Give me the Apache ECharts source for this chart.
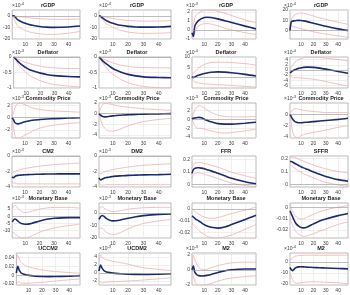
<!DOCTYPE html>
<html><head><meta charset="utf-8">
<script src="https://cdn.jsdelivr.net/npm/echarts@6/dist/echarts.min.js"></script>
<style>html,body{margin:0;padding:0;background:#fff}#c{width:350px;height:295px}</style>
</head><body><div id="c"></div>
<script>
// horizons (x values) shared by all panels
const steps = [1,2,3,4,5,6,8,10,12,15,20,25,30,40,48];
const xTicks = [10,20,30,40];

// Row 1: rGDP
const r1c1_mid = [0,0,-1,-2.5,-3.5,-4.2,-5.5,-6.5,-7.3,-8.2,-9.2,-9.8,-10,-9.6,-8.8];
const r1c1_hi  = [0,0,-0.2,-0.4,-0.6,-0.8,-1,-1.3,-1.6,-2,-2.5,-2.9,-3,-3,-2.8];
const r1c1_lo  = [0,-2,-5,-7.5,-9,-10,-11.5,-12.5,-13.5,-14.5,-15.5,-16,-16,-15,-13.5];
const r1c2_mid = [0,-0.5,-1.5,-2.5,-3.5,-4.2,-5.5,-6.5,-7.3,-8.2,-9.1,-9.6,-9.8,-9.6,-9.1];
const r1c2_hi  = [0,0,-0.3,-0.6,-1,-1.3,-1.8,-2.3,-2.8,-3.3,-4,-4.4,-4.6,-4.5,-4.2];
const r1c2_lo  = [0,-1.5,-3,-4.5,-6,-7,-8.5,-10,-11,-12.5,-14,-14.8,-15.2,-15,-14.5];
const r1c3_mid = [-0.3,-0.7,0.4,0.7,0.9,1.05,1.25,1.38,1.4,1.38,1.22,1.02,0.82,0.42,0.12];
const r1c3_hi  = [0.3,0.6,1.3,1.6,1.8,1.9,2.05,2.15,2.2,2.2,2.05,1.85,1.6,1.1,0.8];
const r1c3_lo  = [-0.9,-1.0,-0.3,0.1,0.3,0.45,0.6,0.7,0.7,0.65,0.45,0.2,0,-0.3,-0.5];
const r1c4_mid = [0,8.5,9.2,9.5,9.6,9.8,10,9.8,9.5,8.8,7.3,5.8,4.3,1.8,0.2];
const r1c4_hi  = [2,11,13,14.5,15.3,16,16.8,17,16.8,16,14.2,12.5,11,8.2,6.2];
const r1c4_lo  = [-1,5,4.5,4,3.6,3.3,2.6,2,1.3,0.4,-1,-2.2,-3.2,-5,-6.3];
// Row 2: Deflator
const r2c1_mid = [0,-0.04,-0.09,-0.14,-0.18,-0.22,-0.29,-0.35,-0.4,-0.45,-0.52,-0.57,-0.6,-0.63,-0.64];
const r2c1_hi  = [0,-0.02,-0.05,-0.07,-0.09,-0.11,-0.15,-0.18,-0.21,-0.25,-0.3,-0.33,-0.35,-0.37,-0.37];
const r2c1_lo  = [0,-0.07,-0.14,-0.21,-0.27,-0.33,-0.43,-0.51,-0.58,-0.66,-0.77,-0.84,-0.89,-0.94,-0.96];
const r2c2_mid = [0,-0.05,-0.1,-0.15,-0.19,-0.23,-0.3,-0.37,-0.42,-0.48,-0.56,-0.61,-0.64,-0.66,-0.67];
const r2c2_hi  = [0,-0.02,-0.05,-0.07,-0.09,-0.11,-0.15,-0.19,-0.22,-0.26,-0.3,-0.33,-0.34,-0.35,-0.35];
const r2c2_lo  = [0,-0.08,-0.16,-0.23,-0.3,-0.36,-0.47,-0.56,-0.63,-0.72,-0.83,-0.9,-0.95,-0.99,-1.0];
const r2c3_mid = [0.5,0,0.4,0.7,1,1.2,1.6,2,2.3,2.6,2.8,2.7,2.4,1.6,0.8];
const r2c3_hi  = [1.5,2,2.8,3.5,4.2,4.8,5.7,6.4,6.9,7.3,7.5,7.5,7.3,6.8,6.1];
const r2c3_lo  = [-0.5,-1.5,-2,-2.3,-2.5,-2.6,-2.8,-3,-3.1,-3.2,-3.4,-3.6,-3.8,-4.2,-4.6];
const r2c4_mid = [-1.2,-0.8,-0.4,-0.1,0.1,0.3,0.6,0.8,1,1.1,1,0.7,0.3,-0.6,-1.3];
const r2c4_hi  = [0,1,1.8,2.5,3,3.4,4,4.4,4.7,5,5,4.8,4.5,4,3.5];
const r2c4_lo  = [-2,-2.5,-2.8,-3,-3,-3,-3,-3.1,-3.2,-3.3,-3.6,-4,-4.5,-5.5,-6.2];
// Row 3: Commodity Price
const r3c1_mid = [0,-0.3,-0.8,-0.95,-1.0,-0.95,-0.8,-0.65,-0.55,-0.42,-0.3,-0.2,-0.15,-0.05,0];
const r3c1_hi  = [0,0.8,1.6,2.1,2.3,2.35,2.3,2.1,1.9,1.6,1.35,1.2,1.1,1.0,0.9];
const r3c1_lo  = [0,-1.5,-2.9,-3.3,-3.3,-3.3,-3.1,-2.8,-2.6,-2.2,-1.7,-1.4,-1.2,-0.95,-0.8];
const r3c2_mid = [0,-0.3,-0.5,-0.6,-0.62,-0.6,-0.5,-0.42,-0.36,-0.3,-0.2,-0.14,-0.1,-0.05,0];
const r3c2_hi  = [0,1,1.5,1.8,1.9,1.9,1.8,1.7,1.55,1.4,1.2,1.05,0.9,0.75,0.6];
const r3c2_lo  = [0,-1,-2,-2.5,-2.8,-3.1,-3.3,-3.3,-3.2,-2.9,-2.3,-1.85,-1.5,-1.1,-0.9];
const r3c3_mid = [0,0.2,0.25,0.3,0.35,0.4,0.3,0,-0.25,-0.6,-1.0,-1.1,-1.1,-0.9,-0.7];
const r3c3_hi  = [0,1.2,2,2.5,2.8,3,2.9,2.5,2.1,1.5,0.9,0.6,0.5,0.5,0.6];
const r3c3_lo  = [0,-0.8,-1.5,-1.8,-2,-2,-2.1,-2.2,-2.4,-2.6,-3,-3.1,-3,-2.6,-2.2];
const r3c4_mid = [0,-0.4,-0.8,-1.1,-1.3,-1.4,-1.5,-1.5,-1.45,-1.4,-1.3,-1.2,-1.1,-0.9,-0.7];
const r3c4_hi  = [0,0.4,0.8,0.95,1,1,0.9,0.8,0.7,0.6,0.5,0.4,0.3,0.3,0.3];
const r3c4_lo  = [0,-1.5,-3,-3.6,-3.9,-4.1,-4.1,-3.8,-3.6,-3.4,-3.2,-3,-2.8,-2.3,-2];
// Row 4: CM2, DM2, FFR, SFFR
const r4c1_mid = [-2.7,-2.8,-2.65,-2.55,-2.5,-2.48,-2.45,-2.42,-2.4,-2.38,-2.35,-2.33,-2.32,-2.3,-2.3];
const r4c1_hi  = [-2.2,-2.1,-2.0,-1.9,-1.85,-1.8,-1.7,-1.62,-1.55,-1.45,-1.32,-1.2,-1.12,-1.0,-0.92];
const r4c1_lo  = [-3.3,-3.5,-3.5,-3.55,-3.6,-3.6,-3.6,-3.6,-3.6,-3.6,-3.6,-3.6,-3.6,-3.6,-3.6];
const r4c2_mid = [-2.8,-3.1,-3.0,-2.9,-2.82,-2.78,-2.7,-2.65,-2.6,-2.56,-2.5,-2.47,-2.44,-2.4,-2.35];
const r4c2_hi  = [-2.2,-2.3,-2.2,-2.1,-2.0,-1.95,-1.85,-1.75,-1.68,-1.58,-1.42,-1.3,-1.2,-1.08,-1.0];
const r4c2_lo  = [-3.3,-3.7,-3.75,-3.75,-3.72,-3.7,-3.7,-3.7,-3.7,-3.7,-3.7,-3.7,-3.7,-3.7,-3.7];
const r4c3_mid = [0.09,0.12,0.13,0.133,0.135,0.135,0.132,0.127,0.12,0.11,0.09,0.07,0.05,0.022,0.005];
const r4c3_hi  = [0.13,0.16,0.17,0.175,0.177,0.177,0.175,0.17,0.165,0.155,0.14,0.12,0.1,0.07,0.05];
const r4c3_lo  = [0.05,0.08,0.09,0.093,0.095,0.094,0.09,0.083,0.076,0.066,0.048,0.03,0.012,-0.008,-0.018];
const r4c4_mid = [0.18,0.178,0.174,0.168,0.162,0.157,0.147,0.137,0.128,0.117,0.097,0.078,0.062,0.037,0.025];
const r4c4_hi  = [0.21,0.212,0.212,0.21,0.207,0.203,0.195,0.187,0.179,0.168,0.15,0.134,0.12,0.1,0.09];
const r4c4_lo  = [0.15,0.145,0.138,0.131,0.124,0.117,0.104,0.093,0.082,0.07,0.05,0.031,0.016,-0.004,-0.015];
// Row 5: Monetary Base
const r5c1_mid = [-4,-2.5,-2,-2.6,-3.5,-4.3,-5.3,-5.6,-5.5,-4.8,-3.4,-2.2,-1.5,-1,-1];
const r5c1_hi  = [5,7,7.5,6.5,5.2,4.2,3,2.5,2.7,3.5,4.8,5.6,6,6,5.5];
const r5c1_lo  = [-12,-11.5,-12,-13,-14,-14.5,-15,-15,-14.5,-13.3,-11,-9.4,-8.1,-6.5,-5.5];
const r5c2_mid = [-5,-3,-2,-2.5,-3.5,-4.5,-5.8,-6.3,-6.2,-5.6,-4.2,-3,-2.1,-1.1,-0.8];
const r5c2_hi  = [3,4.5,5,4.2,3.3,2.6,1.6,1.2,1.3,1.9,3,3.7,4.2,4.5,4.5];
const r5c2_lo  = [-13,-12,-12,-13,-14.5,-15.5,-16.8,-17.2,-17,-15.7,-12.7,-10.2,-8.4,-6.3,-5.2];
const r5c3_mid = [-0.006,-0.007,-0.008,-0.009,-0.0097,-0.0104,-0.012,-0.0135,-0.0147,-0.0158,-0.0165,-0.0155,-0.0135,-0.0092,-0.0055];
const r5c3_hi  = [0,-0.001,-0.002,-0.003,-0.0038,-0.0046,-0.006,-0.007,-0.0077,-0.0082,-0.0075,-0.0058,-0.004,-0.0012,0.0015];
const r5c3_lo  = [-0.012,-0.0135,-0.015,-0.0165,-0.0175,-0.0185,-0.0205,-0.022,-0.0235,-0.0245,-0.025,-0.024,-0.0225,-0.0175,-0.0135];
const r5c4_mid = [-0.003,-0.0055,-0.008,-0.0105,-0.0128,-0.0145,-0.0165,-0.0178,-0.018,-0.0172,-0.0145,-0.012,-0.0102,-0.0072,-0.0053];
const r5c4_hi  = [0.003,0,-0.003,-0.005,-0.007,-0.0082,-0.0095,-0.0102,-0.0098,-0.0085,-0.006,-0.0038,-0.002,0.0003,0.0018];
const r5c4_lo  = [-0.01,-0.0125,-0.0155,-0.018,-0.02,-0.0215,-0.0235,-0.025,-0.0255,-0.025,-0.0232,-0.021,-0.019,-0.015,-0.0128];
// Row 6: UCCM2, UCDM2, M2, M2
const r6c1_mid = [0.005,0.02,0.012,0.007,0.004,0.003,0.001,0,-0.001,-0.002,-0.003,-0.0032,-0.003,-0.002,-0.001];
const r6c1_hi  = [0.03,0.045,0.037,0.031,0.027,0.025,0.021,0.019,0.017,0.015,0.012,0.0098,0.0082,0.006,0.0045];
const r6c1_lo  = [-0.02,-0.016,-0.015,-0.017,-0.018,-0.018,-0.018,-0.018,-0.0175,-0.017,-0.016,-0.0145,-0.013,-0.0103,-0.0083];
const r6c2_mid = [0.5,2,1.2,0.7,0.4,0.25,0.1,0,-0.1,-0.2,-0.3,-0.35,-0.38,-0.3,-0.2];
const r6c2_hi  = [3,4.5,4,3.6,3.4,3.3,3.1,2.9,2.8,2.6,2.2,1.7,1.3,0.9,0.6];
const r6c2_lo  = [-2,-2.3,-2.5,-2.4,-2.3,-2.25,-2.2,-2.2,-2.15,-2.1,-2,-1.9,-1.75,-1.45,-1.2];
const r6c3_mid = [0,0.5,-0.3,-0.55,-0.7,-0.77,-0.82,-0.8,-0.74,-0.62,-0.35,-0.15,0,0.1,0.1];
const r6c3_hi  = [0,1.9,1.4,0.9,0.55,0.3,0.05,0,0.05,0.25,0.55,0.75,0.9,1,1];
const r6c3_lo  = [0,-0.9,-1.5,-1.8,-1.95,-2,-2,-2,-1.95,-1.8,-1.5,-1.25,-1.1,-0.9,-0.8];
const r6c4_mid = [-5,-7,-8,-7.2,-6,-5.2,-4.6,-4.5,-4.6,-4.8,-5.1,-5.4,-5.6,-6,-6.4];
const r6c4_hi  = [1,2.5,3.5,4.3,5,5.3,5.6,5.8,5.9,6,6,6,6,6,6];
const r6c4_lo  = [-10,-13,-16,-18,-19,-19.3,-19.3,-19,-18.7,-18.3,-18,-18.2,-18.5,-19,-20];

const titles = ['rGDP','rGDP','rGDP','rGDP','Deflator','Deflator','Deflator','Deflator',
  'Commodity Price','Commodity Price','Commodity Price','Commodity Price','CM2','DM2','FFR','SFFR',
  'Monetary Base','Monetary Base','Monetary Base','Monetary Base','UCCM2','UCDM2','M2','M2'];
const exps = ['-4','-4','-3','-4','-3','-3','-4','-4','-3','-3','-3','-3','-3','-3','','','-3','-3','','','','-3','-3','-4'];
const yTicks = [[-20,-10,0],[-20,-10,0],[-1,0,1,2],[0,10,20],
  [-1,-0.5,0],[-1,-0.5,0],[0,5,10],[-6,-4,-2,0,2,4],
  [-2,0,2],[-4,-2,0,2],[-4,-2,0,2],[-4,-2,0],
  [-4,-2,0],[-4,-2,0],[0,0.1,0.2],[0,0.1,0.2],
  [-10,-5,0,5],[-20,-10,0],[-0.02,-0.01,0],[-0.02,-0.01,0],
  [-0.02,0,0.02,0.04],[-2,0,2,4],[-2,0,2],[-20,-10,0]];
const yMin = [-20,-20,-1,-8, -1,-1,-5,-7, -3.3,-4.6,-4.2,-4.2, -4,-4,-0.02,-0.02, -15,-20,-0.025,-0.027, -0.022,-3,-2,-21];
const yMax = [5,5,2.2,20, 0,0,10,5, 2.4,2,3.6,2, 0,0,0.23,0.22, 9,8,0.005,0.004, 0.05,5,2.2,8];
const mids = [r1c1_mid,r1c2_mid,r1c3_mid,r1c4_mid,r2c1_mid,r2c2_mid,r2c3_mid,r2c4_mid,r3c1_mid,r3c2_mid,r3c3_mid,r3c4_mid,
  r4c1_mid,r4c2_mid,r4c3_mid,r4c4_mid,r5c1_mid,r5c2_mid,r5c3_mid,r5c4_mid,r6c1_mid,r6c2_mid,r6c3_mid,r6c4_mid];
const his = [r1c1_hi,r1c2_hi,r1c3_hi,r1c4_hi,r2c1_hi,r2c2_hi,r2c3_hi,r2c4_hi,r3c1_hi,r3c2_hi,r3c3_hi,r3c4_hi,
  r4c1_hi,r4c2_hi,r4c3_hi,r4c4_hi,r5c1_hi,r5c2_hi,r5c3_hi,r5c4_hi,r6c1_hi,r6c2_hi,r6c3_hi,r6c4_hi];
const los = [r1c1_lo,r1c2_lo,r1c3_lo,r1c4_lo,r2c1_lo,r2c2_lo,r2c3_lo,r2c4_lo,r3c1_lo,r3c2_lo,r3c3_lo,r3c4_lo,
  r4c1_lo,r4c2_lo,r4c3_lo,r4c4_lo,r5c1_lo,r5c2_lo,r5c3_lo,r5c4_lo,r6c1_lo,r6c2_lo,r6c3_lo,r6c4_lo];

// layout
const colLeft = [12, 99, 192, 290];
const colWidth = [68, 72, 64, 58];
const expShift = [0, 0, -6, -6];
const rowTop = [10, 57, 103, 156, 203, 253];
const rowHeight = [29, 31, 35, 31, 35, 32];
const FONT = 'Liberation Sans, Arial, sans-serif';
const fmt = v => String(parseFloat(Number(v).toFixed(6)));

const grid = [], xAxis = [], yAxis = [], series = [], graphic = [];
for (let i = 0; i < 24; i++) {
  const r = Math.floor(i / 4), c = i % 4;
  grid.push({left: colLeft[c], top: rowTop[r], width: colWidth[c], height: rowHeight[r],
    show: true, borderColor: '#a8a8a8', borderWidth: 0.8, backgroundColor: '#ffffff'});
  xAxis.push({type: 'value', gridIndex: i, min: 1, max: 48,
    axisLine: {show: false},
    axisTick: {show: false, customValues: xTicks},
    splitLine: {show: true, lineStyle: {color: '#e4e4e4', width: 0.6}},
    axisLabel: {customValues: xTicks, fontSize: 5, color: '#404040', margin: 3, fontFamily: FONT, formatter: fmt}});
  yAxis.push({type: 'value', gridIndex: i, min: yMin[i], max: yMax[i],
    axisLine: {show: false},
    axisTick: {show: false, customValues: yTicks[i]},
    splitLine: {show: true, lineStyle: {color: '#e4e4e4', width: 0.6}},
    axisLabel: {customValues: yTicks[i], fontSize: 5, color: '#404040', margin: 2, fontFamily: FONT, formatter: fmt}});
  const pts = arr => steps.map((s, k) => [s, arr[k]]);
  series.push({type: 'line', xAxisIndex: i, yAxisIndex: i, data: pts(his[i]), showSymbol: false, smooth: 0.3,
    lineStyle: {color: '#eeb0b0', width: 0.8}, silent: true, z: 2});
  series.push({type: 'line', xAxisIndex: i, yAxisIndex: i, data: pts(los[i]), showSymbol: false, smooth: 0.3,
    lineStyle: {color: '#eeb0b0', width: 0.8}, silent: true, z: 2});
  series.push({type: 'line', xAxisIndex: i, yAxisIndex: i, data: pts(mids[i]), showSymbol: false, smooth: 0.3,
    lineStyle: {color: '#1c2a70', width: 1.6}, silent: true, z: 4,
    markLine: {silent: true, symbol: 'none', label: {show: false}, animation: false,
      lineStyle: {color: '#9a9a9a', width: 0.6, type: 'solid'}, data: [{yAxis: 0}]}});
  graphic.push({type: 'text', x: colLeft[c] + colWidth[c] / 2 + 2, y: rowTop[r] - 2,
    style: {text: titles[i], fontSize: 5.5, fontWeight: 'bold', fontFamily: FONT, fill: '#222',
      align: 'center', verticalAlign: 'bottom'}});
  if (exps[i]) {
    graphic.push({type: 'text', x: colLeft[c] + expShift[c], y: rowTop[r] - 1,
      style: {text: '{a|×10}{b|' + exps[i] + '}', verticalAlign: 'bottom', align: 'left',
        rich: {a: {fontSize: 5, fill: '#404040', fontFamily: FONT},
               b: {fontSize: 4, fill: '#404040', fontFamily: FONT, padding: [0, 0, 3, 0]}}}});
  }
}

const chart = echarts.init(document.getElementById('c'), null, {renderer: 'canvas'});
chart.setOption({animation: false, backgroundColor: '#ffffff', grid, xAxis, yAxis, series, graphic});
</script></body></html>
